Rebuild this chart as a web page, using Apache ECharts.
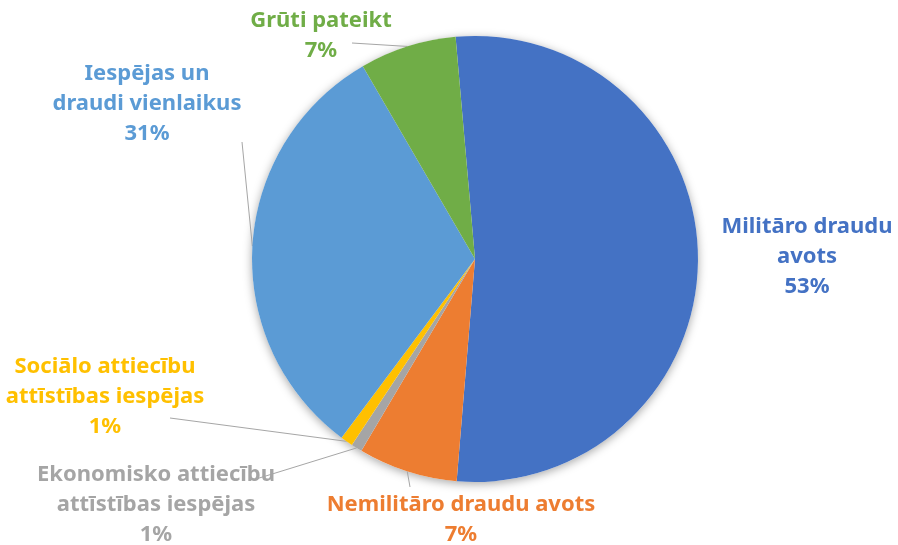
<!DOCTYPE html>
<html><head><meta charset="utf-8">
<script src="https://cdn.jsdelivr.net/npm/echarts@6/dist/echarts.min.js"></script>
<style>html,body{margin:0;padding:0;background:#fff}#c{width:898px;height:545px}</style>
</head><body><div id="c"></div>
<script>
// ---- data ----
const categories = [
  'Militāro draudu avots',
  'Nemilitāro draudu avots',
  'Ekonomisko attiecību attīstības iespējas',
  'Sociālo attiecību attīstības iespējas',
  'Iespējas un draudi vienlaikus',
  'Grūti pateikt'
];
const labelText = [
  ['Militāro draudu', 'avots'],
  ['Nemilitāro draudu avots'],
  ['Ekonomisko attiecību', 'attīstības iespējas'],
  ['Sociālo attiecību', 'attīstības iespējas'],
  ['Iespējas un', 'draudi vienlaikus'],
  ['Grūti pateikt']
];
const values = [52.7, 7.2, 0.8, 0.9, 31.4, 7.0];

// ---- styles / layout ----
const palette = ['#4472C4', '#ED7D31', '#A5A5A5', '#FFC000', '#5B9BD5', '#70AD47'];
const labelLayoutCfg = [
  { x: 807, y: 257, end: null },
  { x: 461, y: 520, end: [410, 487] },
  { x: 156, y: 505, end: [256, 479] },
  { x: 105, y: 397, end: [170, 418] },
  { x: 147, y: 104, end: [242, 142] },
  { x: 321, y: 36, end: [352, 43] }
];

const total = values.reduce((a, b) => a + b, 0);
const data = categories.map((name, i) => ({
  name: name,
  value: values[i],
  itemStyle: { color: palette[i] },
  label: { color: palette[i] },
  labelLine: { show: labelLayoutCfg[i].end !== null }
}));

const chart = echarts.init(document.getElementById('c'), null, { renderer: 'canvas' });
chart.setOption({
  animation: false,
  backgroundColor: '#fff',
  series: [
    {
      type: 'pie',
      silent: true,
      z: 1,
      center: [475, 259],
      radius: 223,
      label: { show: false },
      labelLine: { show: false },
      data: [{ value: total, itemStyle: { color: '#fff', shadowBlur: 10, shadowColor: 'rgba(0,0,0,0.35)', shadowOffsetY: 2 } }]
    },
    {
      type: 'pie',
      z: 2,
      center: [475, 259],
      radius: 223,
      startAngle: 95,
      clockwise: true,
      avoidLabelOverlap: false,
      itemStyle: { borderWidth: 0 },
      label: {
        show: true,
        position: 'outside',
        alignTo: 'none',
        overflow: 'none',
        fontFamily: 'Noto Sans',
        fontWeight: 'bold',
        fontSize: 22,
        lineHeight: 30,
        align: 'center',
        formatter: function (p) {
          return labelText[p.dataIndex].join('\n') + '\n' + Math.round(p.value) + '%';
        }
      },
      labelLine: {
        show: true,
        lineStyle: { color: '#a6a6a6', width: 1 }
      },
      labelLayout: function (params) {
        const cfg = labelLayoutCfg[params.dataIndex];
        const res = { x: cfg.x, y: cfg.y, align: 'center', verticalAlign: 'middle' };
        if (cfg.end && params.labelLinePoints) {
          res.labelLinePoints = [params.labelLinePoints[0], cfg.end, cfg.end];
        }
        return res;
      },
      data: data
    }
  ]
});
</script>
</body></html>
